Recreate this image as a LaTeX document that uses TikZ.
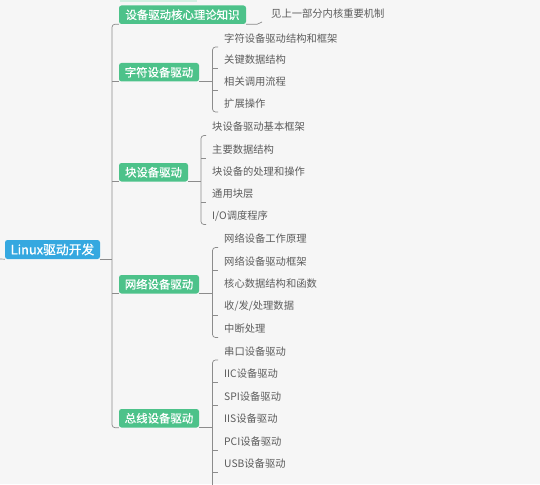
\documentclass[tikz,border=0pt]{standalone}
\usepackage{fontspec}
\setmainfont{Noto Sans CJK SC}
\newfontfamily\boxfont[FakeBold=0.8]{Noto Sans CJK SC}
\usetikzlibrary{calc}
\definecolor{bg}{HTML}{F6F6F6}
\definecolor{rootblue}{HTML}{35A8E0}
\definecolor{maingreen}{HTML}{4DC28A}
\definecolor{leafgray}{HTML}{5C5C5C}
\definecolor{linegray}{HTML}{8C8C8C}
\tikzset{
  rootbox/.style={fill=rootblue, text=white, rounded corners=2.5pt, inner sep=0pt,
    minimum width=95pt, minimum height=19pt, font=\boxfont\fontsize{12.8}{12.8}\selectfont},
  mainbox/.style={fill=maingreen, text=white, rounded corners=2.5pt, inner sep=0pt,
    minimum height=18.5pt, font=\boxfont\fontsize{11.4}{11.4}\selectfont},
  leaf/.style={anchor=south west, text=leafgray, inner xsep=6pt, inner ysep=0pt,
    minimum height=17pt, font=\fontsize{10.3}{10.3}\selectfont},
  conn/.style={draw=linegray, line width=0.7pt},
  bracket/.style={conn, rounded corners=3pt},
}
\begin{document}
\begin{tikzpicture}[x=1pt,y=-1pt]
\fill[bg] (0,0) rectangle (540,484);
\useasboundingbox (0,0) rectangle (540,484);
\fill[maingreen!25] (120,0) rectangle (197,2);

% root
\node[rootbox] (root) at (52.5,249.5) {Linux驱动开发};
\coordinate (rootstart) at (0,259);

% main branches
\node[mainbox, minimum width=127pt] (m1) at (182.5,14.75) {设备驱动核心理论知识};
\node[mainbox, minimum width=80pt] (m2) at (159,72.25) {字符设备驱动};
\node[mainbox, minimum width=69pt] (m3) at (153.5,172.25) {块设备驱动};
\node[mainbox, minimum width=80pt] (m4) at (159,284.25) {网络设备驱动};
\node[mainbox, minimum width=80pt] (m5) at (159,418.25) {总线设备驱动};

% trunk
\coordinate (tx) at (112,0);
\draw[conn] (rootstart) -- (root.south west);
\draw[conn] (root.south east) -- (root.south east -| tx);
\draw[bracket] (m1.south west) -- (m1.south west -| tx) -- (m5.south west -| tx) -- (m5.south west);
\draw[conn] (m2.south west -| tx) -- (m2.south west);
\draw[conn] (m3.south west -| tx) -- (m3.south west);
\draw[conn] (m4.south west -| tx) -- (m4.south west);

% branch 1
\node[leaf, inner xsep=9pt] (a1) at (262,22) {见上一部分内核重要机制};
\draw[conn] (m1.south east) -- ++(11,0) to[out=0,in=180] (a1.south west);

% branch 2
\node[leaf] (b1) at (218,47) {字符设备驱动结构和框架};
\node[leaf] (b2) at (218,68.5) {关键数据结构};
\node[leaf] (b3) at (218,90.5) {相关调用流程};
\node[leaf] (b4) at (218,112) {扩展操作};
\coordinate (bx2) at (212.5,0);
\draw[conn] (m2.south east) -- (m2.south east -| bx2);
\draw[bracket] (b1.south west) -- (b1.south west -| bx2) -- (b4.south west -| bx2) -- (b4.south west);
\foreach \n in {b2,b3} \draw[conn] (\n.south west -| bx2) -- (\n.south west);

% branch 3
\node[leaf] (c1) at (206,135.5) {块设备驱动基本框架};
\node[leaf] (c2) at (206,158) {主要数据结构};
\node[leaf] (c3) at (206,180.5) {块设备的处理和操作};
\node[leaf] (c4) at (206,202.5) {通用块层};
\node[leaf] (c5) at (206,224.5) {I/O调度程序};
\coordinate (bx3) at (201,0);
\draw[conn] (m3.south east) -- (m3.south east -| bx3);
\draw[bracket] (c1.south west) -- (c1.south west -| bx3) -- (c5.south west -| bx3) -- (c5.south west);
\foreach \n in {c2,c4} \draw[conn] (\n.south west -| bx3) -- (\n.south west);

% branch 4
\node[leaf] (d1) at (218,247.5) {网络设备工作原理};
\node[leaf] (d2) at (218,270) {网络设备驱动框架};
\node[leaf] (d3) at (218,292.5) {核心数据结构和函数};
\node[leaf] (d4) at (218,315) {收/发/处理数据};
\node[leaf] (d5) at (218,337.5) {中断处理};
\coordinate (bx4) at (212.5,0);
\draw[conn] (m4.south east) -- (m4.south east -| bx4);
\draw[bracket] (d1.south west) -- (d1.south west -| bx4) -- (d5.south west -| bx4) -- (d5.south west);
\foreach \n in {d2,d4} \draw[conn] (\n.south west -| bx4) -- (\n.south west);

% branch 5
\node[leaf] (e1) at (218,360) {串口设备驱动};
\node[leaf] (e2) at (218,382.5) {IIC设备驱动};
\node[leaf] (e3) at (218,405) {SPI设备驱动};
\node[leaf] (e4) at (218,427.5) {IIS设备驱动};
\node[leaf] (e5) at (218,450) {PCI设备驱动};
\node[leaf] (e6) at (218,472.5) {USB设备驱动};
\coordinate (bx5) at (212.5,0);
\coordinate (e7) at (218,500);
\draw[conn] (m5.south east) -- (m5.south east -| bx5);
\draw[bracket] (e1.south west) -- (e1.south west -| bx5) -- (e7 -| bx5);
\foreach \n in {e2,e3,e5,e6} \draw[conn] (\n.south west -| bx5) -- (\n.south west);
\end{tikzpicture}
\end{document}
